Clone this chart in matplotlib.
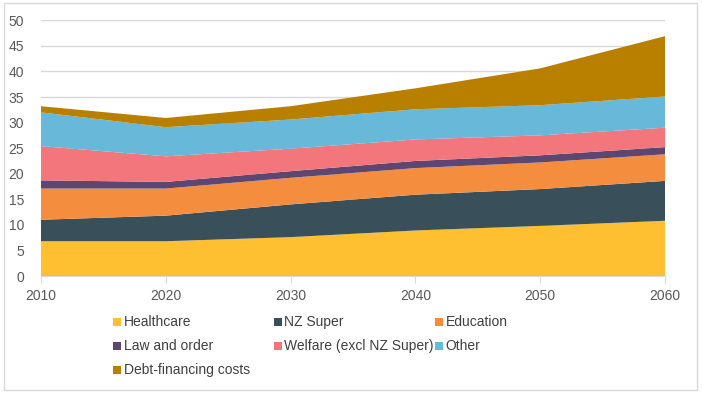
import matplotlib
matplotlib.use("Agg")
from matplotlib import pyplot as plt
from matplotlib.patches import Rectangle

plt.rcParams['font.family'] = ['Liberation Sans', 'DejaVu Sans']

years = [2010, 2020, 2030, 2040, 2050, 2060]

# % of GDP
healthcare = [6.8, 6.8, 7.6, 8.9, 9.8, 10.8]
nz_super = [4.2, 5.0, 6.4, 7.0, 7.2, 7.8]
education = [6.1, 5.3, 5.2, 5.2, 5.2, 5.2]
law_and_order = [1.6, 1.3, 1.3, 1.4, 1.4, 1.4]
welfare = [6.7, 5.0, 4.4, 4.2, 3.9, 3.8]
other = [6.6, 5.7, 5.7, 5.9, 5.9, 6.1]
debt_costs = [1.2, 1.8, 2.6, 4.1, 7.2, 11.8]

labels = ["Healthcare", "NZ Super", "Education", "Law and order",
          "Welfare (excl NZ Super)", "Other", "Debt-financing costs"]
colors = ["#FEBF30", "#394F5A", "#F58D3E", "#5D4771",
          "#F2767B", "#67B8D9", "#B98000"]

W, H = 702, 398
fig = plt.figure(figsize=(W / 100, H / 100), dpi=100)

def px(x0, y0, x1, y1):
    return [x0 / W, 1 - y1 / H, (x1 - x0) / W, (y1 - y0) / H]

ax = fig.add_axes(px(41, 20.3, 665, 276))
ax.stackplot(years, healthcare, nz_super, education, law_and_order,
             welfare, other, debt_costs, colors=colors, linewidth=0)

ax.set_xlim(2010, 2060)
ax.set_ylim(0, 50)
ax.set_xticks(years)
ax.set_yticks(range(0, 51, 5))
ax.grid(axis='y', color='#D9D9D9', linewidth=1)
ax.set_axisbelow(True)
for s in ['top', 'right', 'left']:
    ax.spines[s].set_visible(False)
ax.spines['bottom'].set_color('#D9D9D9')
ax.tick_params(axis='y', length=0, pad=12, labelsize=10, labelcolor='#595959')
ax.tick_params(axis='x', length=5, color='#D9D9D9', pad=4, labelsize=10,
               labelcolor='#595959')

# legend laid out like the original: fixed column positions
col_x = [113, 274, 435]
row_y = [322, 346, 370]
for i, (lab, col) in enumerate(zip(labels, colors)):
    cx = col_x[i % 3]
    cy = row_y[i // 3]
    fig.add_artist(Rectangle((cx / W, 1 - (cy + 4) / H), 8 / W, 8 / H,
                             transform=fig.transFigure, color=col, lw=0))
    fig.text((cx + 10.5) / W, 1 - cy / H, lab, fontsize=10, color='#404040',
             va='center', ha='left')

# outer frame
fig.add_artist(Rectangle((4 / W, 1 - 390 / H), 693 / W, 387 / H,
                         transform=fig.transFigure, fill=False,
                         edgecolor='#D9D9D9', lw=1))

fig.savefig("out.png", dpi=100)
